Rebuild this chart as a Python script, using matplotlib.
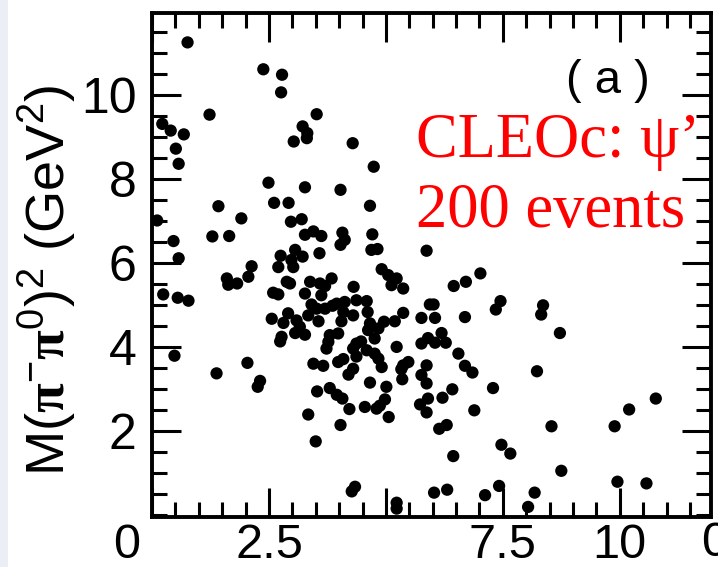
import matplotlib
matplotlib.use("Agg")
import matplotlib.pyplot as plt
from matplotlib.ticker import MultipleLocator
from matplotlib.transforms import ScaledTranslation
from matplotlib.patches import Rectangle

plt.rcParams['font.family'] = ['Liberation Sans', 'DejaVu Sans']
plt.rcParams['mathtext.fontset'] = 'custom'
plt.rcParams['mathtext.rm'] = 'Liberation Sans'
plt.rcParams['mathtext.it'] = 'Liberation Sans:italic'
plt.rcParams['mathtext.bf'] = 'Liberation Serif:bold'

# Dalitz-plot events: M(pi+ pi0)^2 vs M(pi- pi0)^2 in GeV^2
m2_plus = [
    0.76, 2.38, 2.78, 2.76, 1.23, 0.22, 0.40, 0.68, 0.51, 0.57,
    3.03, 2.49, 1.42, 2.61, 2.92, 0.11, 1.91, 2.97, 0.46, 1.29,
    1.65, 0.57, 2.75, 3.52, 3.22, 3.32, 3.31, 4.29, 4.74, 3.27,
    4.03, 4.66, 3.20, 3.27, 3.45, 3.62, 4.07, 4.12, 4.03, 4.71,
    3.06, 3.22, 3.58, 4.69, 4.82, 5.87, 2.98, 2.13, 2.70, 1.60,
    1.63, 1.82, 2.06, 0.24, 0.55, 0.78, 2.88, 2.59, 2.70, 2.91,
    2.56, 2.81, 2.77, 2.74, 0.48, 1.38, 2.04, 2.31, 2.26, 3.02,
    4.91, 5.05, 5.23, 5.12, 5.37, 3.38, 3.59, 3.84, 3.70, 4.31,
    3.27, 3.62, 2.95, 3.95, 4.12, 4.37, 4.59, 3.41, 3.52, 3.70,
    3.34, 4.09, 4.30, 4.61, 5.37, 5.76, 5.94, 3.09, 3.56, 4.05,
    4.66, 4.96, 5.19, 3.16, 4.62, 4.84, 3.27, 3.06, 3.80, 3.98,
    4.76, 5.90, 5.76, 4.37, 3.77, 3.73, 4.30, 4.59, 4.76, 5.23,
    4.84, 4.91, 3.45, 3.66, 3.98, 4.09, 4.30, 4.20, 5.37, 5.48,
    5.33, 5.76, 5.87, 4.66, 5.35, 5.01, 5.87, 3.80, 3.53, 3.95,
    4.07, 4.98, 4.55, 4.80, 4.87, 4.22, 5.73, 5.87, 5.90, 3.34,
    4.03, 5.06, 3.50, 4.34, 4.27, 5.23, 5.23, 7.02, 6.71, 6.45,
    6.02, 6.05, 6.69, 7.45, 7.35, 8.36, 8.32, 8.72, 6.19, 6.05,
    6.28, 6.55, 6.69, 6.85, 6.42, 6.21, 7.29, 8.23, 6.89, 6.30,
    6.14, 8.54, 7.47, 7.66, 6.44, 8.75, 6.03, 6.31, 7.42, 7.12,
    8.18, 8.04, 10.77, 10.20, 9.89, 9.95, 10.57, 4.47, 4.37, 3.86,
]
m2_minus = [
    11.25, 10.61, 10.48, 10.06, 9.53, 9.31, 9.15, 9.06, 8.72, 8.36,
    8.89, 7.91, 7.35, 7.43, 7.43, 7.01, 7.06, 6.98, 6.52, 6.63,
    6.64, 6.11, 6.17, 9.54, 9.25, 9.09, 8.97, 8.85, 8.29, 7.80,
    7.74, 7.36, 7.04, 6.67, 6.75, 6.64, 6.72, 6.55, 6.43, 6.68,
    6.31, 6.15, 6.23, 6.31, 6.33, 6.29, 6.07, 5.92, 5.90, 5.63,
    5.48, 5.51, 5.67, 5.25, 5.17, 5.10, 5.55, 5.29, 5.25, 4.80,
    4.67, 4.57, 4.24, 4.13, 3.79, 3.37, 3.62, 3.19, 3.05, 5.90,
    5.85, 5.71, 5.63, 5.47, 5.39, 5.55, 5.51, 5.63, 5.45, 5.43,
    5.27, 5.23, 5.51, 5.03, 5.07, 5.11, 5.09, 5.01, 4.91, 4.91,
    4.75, 4.83, 4.75, 4.83, 4.81, 4.69, 5.01, 4.63, 4.61, 4.61,
    4.56, 4.60, 4.61, 4.48, 4.40, 4.44, 4.29, 4.33, 4.28, 4.32,
    4.20, 4.21, 4.08, 4.08, 4.12, 3.96, 3.96, 3.92, 3.84, 4.00,
    3.72, 3.52, 3.60, 3.55, 3.64, 3.71, 3.48, 3.34, 3.56, 3.64,
    3.47, 3.33, 3.56, 3.15, 3.23, 3.05, 3.13, 3.02, 2.94, 2.86,
    2.77, 2.75, 2.57, 2.53, 2.60, 2.52, 2.63, 2.44, 2.77, 2.39,
    2.14, 2.33, 1.75, 0.67, 0.56, 0.29, 0.15, 5.75, 5.55, 5.45,
    5.01, 4.69, 4.71, 5.09, 4.89, 4.99, 4.77, 4.33, 4.33, 4.10,
    4.10, 3.84, 3.55, 3.39, 2.99, 2.79, 3.02, 3.42, 2.49, 2.14,
    2.05, 2.11, 1.67, 1.46, 1.40, 1.05, 0.53, 0.60, 0.69, 0.47,
    0.53, 0.19, 2.77, 2.51, 2.11, 0.79, 0.75, 4.13, 3.77, 4.98,
]

x_ticks = [0, 2.5, 5, 7.5, 10]
x_tick_labels = ['0', '2.5', '', '7.5', '10']
y_ticks = [2, 4, 6, 8, 10]
y_tick_labels = ['2', '4', '6', '8', '10']

W, H = 718, 567
fig = plt.figure(figsize=(W / 100, H / 100), dpi=100)
fig.patch.set_facecolor('white')

# faint strip along the left border
fig.patches.append(Rectangle((0, 0), 8 / W, 1, transform=fig.transFigure,
                             facecolor='#eceef6', edgecolor='none', zorder=0))

ax = fig.add_axes([152 / W, (H - 517) / H, (711 - 152) / W, (517 - 13) / H])
ax.scatter(m2_plus, m2_minus, s=78, c='black', edgecolors='none', zorder=3)

ax.set_xlim(0, 11.95)
ax.set_ylim(-0.05, 11.95)

ax.set_xticks(x_ticks, x_tick_labels)
ax.set_yticks(y_ticks, y_tick_labels)
ax.xaxis.set_minor_locator(MultipleLocator(0.5))
ax.yaxis.set_minor_locator(MultipleLocator(0.5))

for s in ax.spines.values():
    s.set_linewidth(2.8)
ax.tick_params(which='both', direction='in', top=True, right=True,
               width=2.2, colors='black')
ax.tick_params(which='major', length=21)
ax.tick_params(which='minor', length=11)
ax.tick_params(axis='x', which='major', labelsize=35, pad=4)
ax.tick_params(axis='y', which='major', labelsize=36, pad=11)

# the "0" on the x axis sits to the left of the origin
zero_label = ax.xaxis.get_major_ticks()[0].label1
zero_label.set_transform(zero_label.get_transform() +
                         ScaledTranslation(-0.25, 0, fig.dpi_scale_trans))

fig.text(47 / W, 1 - 280 / H,
         r'$\mathrm{M(}\mathbf{\pi}^{-}\mathbf{\pi}^{0}\mathrm{)}^{2}\ \mathrm{(GeV}^{2}\mathrm{)}$',
         rotation=90, ha='center', va='center', fontsize=39)

fig.text(608 / W, 1 - 81 / H, '( a )', ha='center', va='center', fontsize=34)

fig.text(416 / W, 1 - 157 / H, 'CLEOc: ψ’', ha='left', va='baseline',
         fontsize=45, color='#ff0000', family=['Liberation Serif', 'DejaVu Serif'])
fig.text(416 / W, 1 - 227 / H, '200 events', ha='left', va='baseline',
         fontsize=45, color='#ff0000', family=['Liberation Serif', 'DejaVu Serif'])

# tick label of the neighbouring panel, cut by the right border
fig.text(701 / W, 1 - 543 / H, '0', ha='left', va='center', fontsize=35)

fig.savefig('out.png', dpi=100)
